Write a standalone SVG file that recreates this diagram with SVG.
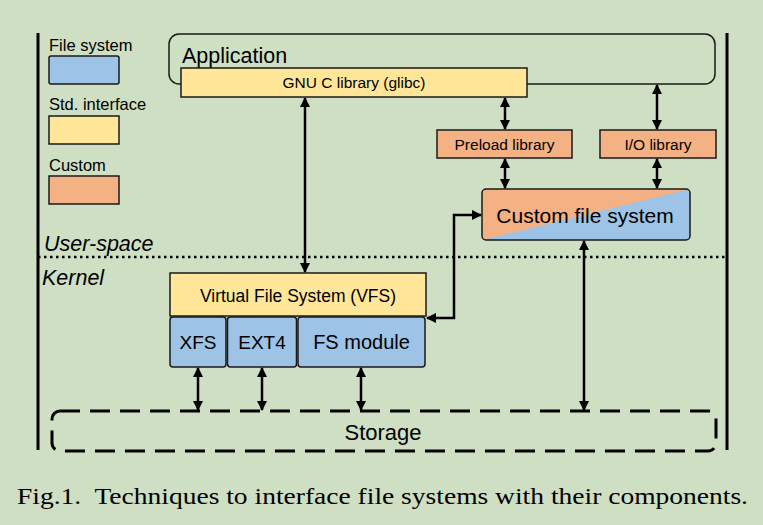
<svg xmlns="http://www.w3.org/2000/svg" width="763" height="525" viewBox="0 0 763 525">
<style>
.t{font-family:"Liberation Sans","Noto Sans",Arial,sans-serif;fill:#000}
.box{stroke:#1a1a1a;stroke-width:1.5}
.blue{fill:#9dc3e6}
.yel{fill:#ffe699}
.ora{fill:#f4b183}
.ln{stroke:#000;stroke-width:2.5;fill:none}
</style>
<defs>
<marker id="ah" markerUnits="userSpaceOnUse" markerWidth="10" markerHeight="10" refX="9" refY="5" orient="auto-start-reverse" viewBox="0 0 10 10">
<path d="M0,0 L10,5 L0,10 z" fill="#000"/>
</marker>
<clipPath id="cfsclip"><rect x="482" y="189" width="208" height="51" rx="4"/></clipPath>
</defs>
<rect width="763" height="525" fill="#cedfc3"/>
<g id="frame">
<line x1="38" y1="33" x2="38" y2="450" stroke="#000" stroke-width="3"/>
<line x1="727" y1="33" x2="727" y2="450" stroke="#000" stroke-width="3"/>
<line x1="38" y1="257" x2="727" y2="257" stroke="#000" stroke-width="2.5" stroke-dasharray="2.5 3.5"/>
<text class="t" x="44" y="251" font-size="21.5" font-style="italic">User-space</text>
<text class="t" x="42" y="285" font-size="21.5" font-style="italic">Kernel</text>
</g>
<g id="legend">
<text class="t" x="49" y="51" font-size="16.5">File system</text>
<rect class="box blue" x="49" y="56" width="70" height="28" rx="2"/>
<text class="t" x="49" y="110" font-size="16.5">Std. interface</text>
<rect class="box yel" x="49" y="116" width="70" height="28"/>
<text class="t" x="49" y="171" font-size="16.5">Custom</text>
<rect class="box ora" x="49" y="176" width="70" height="28"/>
</g>
<g id="application">
<rect x="169" y="34" width="546" height="50" rx="10" fill="none" stroke="#1a1a1a" stroke-width="1.5"/>
<text class="t" x="182" y="63" font-size="21.5">Application</text>
</g>
<g id="glibc">
<rect class="box yel" x="181" y="68" width="346" height="29"/>
<text class="t" x="354" y="88" font-size="15.5" text-anchor="middle">GNU C library (glibc)</text>
</g>
<g id="preload">
<rect class="box ora" x="437" y="130" width="135" height="28"/>
<text class="t" x="504.5" y="149.5" font-size="15.5" text-anchor="middle">Preload library</text>
</g>
<g id="iolib">
<rect class="box ora" x="600" y="130" width="116" height="28"/>
<text class="t" x="658" y="149.5" font-size="15.5" text-anchor="middle">I/O library</text>
</g>
<g id="customfs">
<g clip-path="url(#cfsclip)">
<rect x="482" y="189" width="208" height="51" fill="#f4b183"/>
<polygon points="482,240 690,189 690,240" fill="#9dc3e6"/>
</g>
<rect x="482" y="189" width="208" height="51" rx="4" fill="none" stroke="#1a1a1a" stroke-width="1.5"/>
<text class="t" x="585" y="223" font-size="21" text-anchor="middle">Custom file system</text>
</g>
<g id="vfs">
<rect class="box yel" x="170" y="273" width="256" height="43"/>
<text class="t" x="298" y="302" font-size="17.5" text-anchor="middle">Virtual File System (VFS)</text>
</g>
<g id="xfs">
<rect class="box blue" x="170" y="317" width="56" height="50" rx="3"/>
<text class="t" x="198" y="349" font-size="19" text-anchor="middle">XFS</text>
</g>
<g id="ext4">
<rect class="box blue" x="227.5" y="317" width="69" height="50" rx="3"/>
<text class="t" x="262" y="349" font-size="19" text-anchor="middle">EXT4</text>
</g>
<g id="fsmodule">
<rect class="box blue" x="298" y="317" width="127" height="50" rx="3"/>
<text class="t" x="361.5" y="349" font-size="20" text-anchor="middle">FS module</text>
</g>
<g id="storage">
<rect x="52" y="411" width="664" height="40" rx="8" fill="none" stroke="#000" stroke-width="3" stroke-dasharray="20 10"/>
<text class="t" x="383" y="440" font-size="22" text-anchor="middle">Storage</text>
</g>
<g id="connectors" class="ln">
<line x1="305" y1="98" x2="305" y2="272" marker-start="url(#ah)" marker-end="url(#ah)"/>
<line x1="505" y1="98" x2="505" y2="129" marker-start="url(#ah)" marker-end="url(#ah)"/>
<line x1="657" y1="85" x2="657" y2="129" marker-start="url(#ah)" marker-end="url(#ah)"/>
<line x1="505" y1="159" x2="505" y2="188" marker-start="url(#ah)" marker-end="url(#ah)"/>
<line x1="657" y1="159" x2="657" y2="188" marker-start="url(#ah)" marker-end="url(#ah)"/>
<polyline points="481,215 454,215 454,318 427,318" marker-start="url(#ah)" marker-end="url(#ah)"/>
<line x1="584" y1="241" x2="584" y2="410" marker-start="url(#ah)" marker-end="url(#ah)"/>
<line x1="198" y1="368" x2="198" y2="410" marker-start="url(#ah)" marker-end="url(#ah)"/>
<line x1="262" y1="368" x2="262" y2="410" marker-start="url(#ah)" marker-end="url(#ah)"/>
<line x1="361" y1="368" x2="361" y2="410" marker-start="url(#ah)" marker-end="url(#ah)"/>
</g>
<text x="17" y="504" font-family="'Liberation Serif','DejaVu Serif',serif" font-size="24" textLength="731" lengthAdjust="spacingAndGlyphs" xml:space="preserve">Fig.1.  Techniques to interface file systems with their components.</text>
</svg>
